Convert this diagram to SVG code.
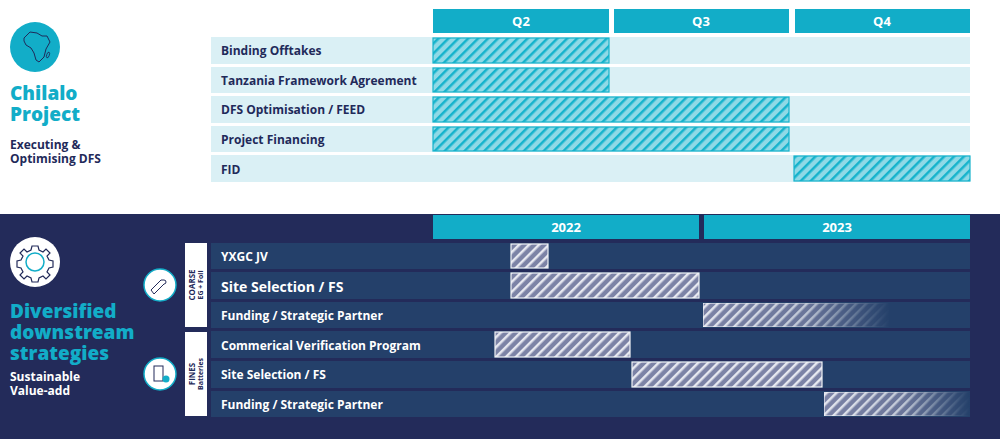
<svg xmlns="http://www.w3.org/2000/svg" width="1000" height="439" viewBox="0 0 1000 439">
<defs>
<pattern id="ht" patternUnits="userSpaceOnUse" width="7" height="7" patternTransform="rotate(45)">
<rect width="7" height="7" fill="#8fd9e6"/><rect width="2.5" height="7" fill="#16b3cc"/>
</pattern>
<pattern id="hd" patternUnits="userSpaceOnUse" width="7" height="7" patternTransform="rotate(45)">
<rect width="7" height="7" fill="#7c83a6"/><rect width="2.5" height="7" fill="#e6e8f0"/>
</pattern>
<linearGradient id="fade" x1="0" x2="1" y1="0" y2="0">
<stop offset="0" stop-color="#fff"/><stop offset="0.55" stop-color="#fff" stop-opacity="0.8"/><stop offset="1" stop-color="#fff" stop-opacity="0"/>
</linearGradient>
<mask id="fm" maskContentUnits="objectBoundingBox"><rect width="1" height="1" fill="url(#fade)"/></mask>
</defs>
<style>
text{font-family:"Open Sans",Lato,sans-serif;font-weight:bold}
.hdr{fill:#12adc8}
.ht{fill:#fff;font-size:13px;text-anchor:middle}
.row{fill:#daf0f5}
.rl{fill:#1f2a5a;font-size:12px}
.drow{fill:#24406a}
.dl{fill:#fff;font-size:12px}
.big{fill:#12adc8;font-size:19px;font-weight:800}
.tb{fill:url(#ht);stroke:#16b3cc;stroke-width:1.2}
.db{fill:url(#hd);stroke:#f2f3f7;stroke-width:1.2}
</style>
<rect width="1000" height="214" fill="#fff"/>
<rect y="214" width="1000" height="225" fill="#232b5a"/>

<g id="top-left">
<circle cx="35" cy="47" r="25" fill="#12adc8"/>
<path d="M24 38 l6-6 7 1 5 3 5 0 3 6 -4 7 -2 8 -5 5 -3 -2 -2 -7 -3 -5 -5 -3 -2 -4z" fill="none" stroke="#1f2a5a" stroke-width="1"/>
<ellipse cx="48" cy="55" rx="1.3" ry="3" fill="none" stroke="#1f2a5a" stroke-width="0.8" transform="rotate(20 48 55)"/>
<text x="10" y="100" class="big">Chilalo</text>
<text x="10" y="121" class="big">Project</text>
<text x="10" y="149" class="rl">Executing &amp;</text>
<text x="10" y="163" class="rl">Optimising DFS</text>
</g>

<g id="quarters">
<rect x="433" y="9" width="176" height="24" class="hdr"/><text x="521" y="26" class="ht">Q2</text>
<rect x="614" y="9" width="175" height="24" class="hdr"/><text x="701" y="26" class="ht">Q3</text>
<rect x="795" y="9" width="175" height="24" class="hdr"/><text x="882" y="26" class="ht">Q4</text>
</g>
<g id="top-rows">
<rect x="211" y="37" width="759" height="27" class="row"/><text x="221" y="55" class="rl">Binding Offtakes</text>
<rect x="211" y="67" width="759" height="26" class="row"/><text x="221" y="85" class="rl">Tanzania Framework Agreement</text>
<rect x="211" y="96" width="759" height="27" class="row"/><text x="221" y="114" class="rl">DFS Optimisation / FEED</text>
<rect x="211" y="126" width="759" height="26" class="row"/><text x="221" y="144" class="rl">Project Financing</text>
<rect x="211" y="155" width="759" height="27" class="row"/><text x="221" y="174" class="rl">FID</text>
</g>
<g id="top-bars">
<rect x="433" y="38" width="176" height="25" class="tb"/>
<rect x="433" y="68" width="176" height="24" class="tb"/>
<rect x="433" y="97" width="356" height="25" class="tb"/>
<rect x="433" y="127" width="356" height="24" class="tb"/>
<rect x="794" y="156" width="176" height="25" class="tb"/>
</g>

<g id="bottom-left">
<circle cx="35" cy="262" r="25" fill="#fff"/>
<path d="M32 246h6l1 4 4 2 3-3 4 4-3 3 2 4 4 1v6l-4 1-2 4 3 3-4 4-3-3-4 2-1 4h-6l-1-4-4-2-3 3-4-4 3-3-2-4-4-1v-6l4-1 2-4-3-3 4-4 3 3 4-2z" fill="none" stroke="#232b5a" stroke-width="1.2"/>
<circle cx="35" cy="262" r="9" fill="none" stroke="#12adc8" stroke-width="1.5"/>
<text x="10" y="318" class="big">Diversified</text>
<text x="10" y="339" class="big">downstream</text>
<text x="10" y="360" class="big">strategies</text>
<text x="10" y="381" class="dl">Sustainable</text>
<text x="10" y="395" class="dl">Value-add</text>
</g>
<g id="icons">
<circle cx="160" cy="285" r="16" fill="#fff" stroke="#12adc8" stroke-width="1.5"/>
<path d="M151 290 l10-10 h3 a2 2 0 0 1 0 4 l-10 10z" fill="none" stroke="#232b5a" stroke-width="1"/>
<circle cx="160" cy="374" r="16" fill="#fff" stroke="#12adc8" stroke-width="1.5"/>
<rect x="154" y="366" width="9" height="15" fill="none" stroke="#232b5a" stroke-width="1"/>
<circle cx="166" cy="379" r="3.5" fill="#12adc8"/>
</g>
<g id="groups">
<rect x="185" y="243" width="22" height="84" fill="#fff"/>
<text transform="translate(195 285) rotate(-90)" fill="#1f2a5a" style="font-size:8px;text-anchor:middle">COARSE</text>
<text transform="translate(203 285) rotate(-90)" fill="#1f2a5a" style="font-size:7px;text-anchor:middle">EG + Foil</text>
<rect x="185" y="332" width="22" height="84" fill="#fff"/>
<text transform="translate(195 374) rotate(-90)" fill="#1f2a5a" style="font-size:8px;text-anchor:middle">FINES</text>
<text transform="translate(203 374) rotate(-90)" fill="#1f2a5a" style="font-size:7px;text-anchor:middle">Batteries</text>
</g>
<g id="years">
<rect x="433" y="215" width="266" height="24" class="hdr"/><text x="566" y="232" class="ht">2022</text>
<rect x="704" y="215" width="266" height="24" class="hdr"/><text x="837" y="232" class="ht">2023</text>
</g>
<g id="bottom-rows">
<rect x="211" y="243" width="759" height="26" class="drow"/><text x="221" y="261" class="dl">YXGC JV</text>
<rect x="211" y="272" width="759" height="27" class="drow"/><text x="221" y="292" class="dl" style="font-size:14px">Site Selection / FS</text>
<rect x="211" y="302" width="759" height="26" class="drow"/><text x="221" y="320" class="dl">Funding / Strategic Partner</text>
<rect x="211" y="331" width="759" height="27" class="drow"/><text x="221" y="350" class="dl">Commerical Verification Program</text>
<rect x="211" y="361" width="759" height="27" class="drow"/><text x="221" y="379" class="dl">Site Selection / FS</text>
<rect x="211" y="391" width="759" height="26" class="drow"/><text x="221" y="409" class="dl">Funding / Strategic Partner</text>
</g>
<g id="bottom-bars">
<rect x="511" y="244" width="37" height="24" class="db"/>
<rect x="511" y="273" width="188" height="25" class="db"/>
<rect x="703" y="303" width="187" height="24" class="db" mask="url(#fm)"/>
<rect x="495" y="332" width="135" height="25" class="db"/>
<rect x="632" y="362" width="190" height="25" class="db"/>
<rect x="824" y="392" width="146" height="24" class="db" mask="url(#fm)"/>
</g>
</svg>
